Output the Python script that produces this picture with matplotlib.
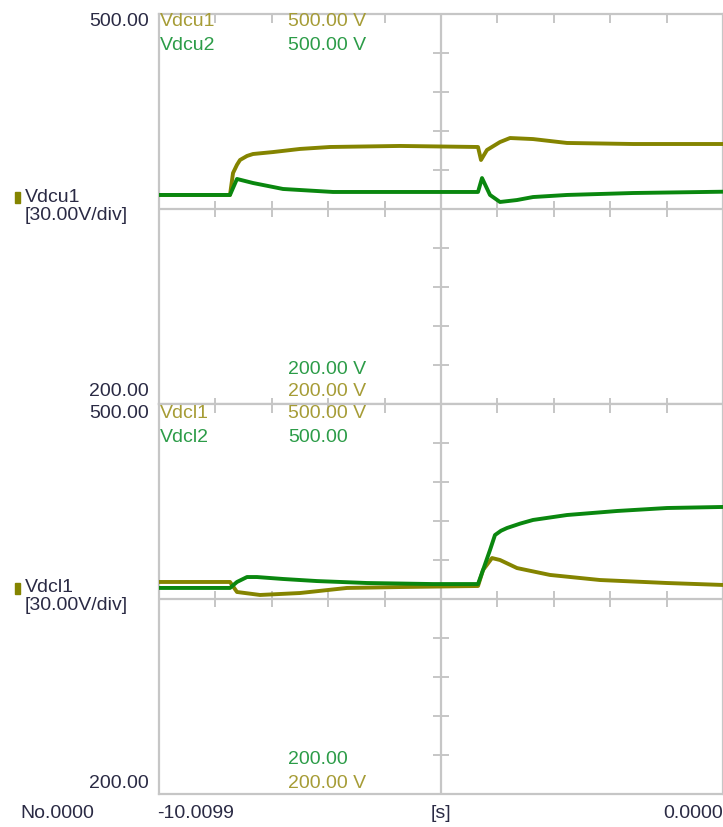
import matplotlib.pyplot as plt
from matplotlib.patches import Rectangle

plt.rcParams["font.family"] = ["Liberation Sans", "DejaVu Sans"]

# time axis (s) and voltage scale (V), 10 divisions each
T_START, T_END = -10.0099, 0.0
V_TOP, V_BOT = 500.0, 200.0
V_PER_DIV = 30.0

# upper pair of DC link voltages
vdcu1_t = [-10.0099, -8.750, -8.696, -8.626, -8.572, -8.448, -8.342, -7.987,
           -7.507, -6.975, -5.733, -4.348, -4.295, -4.189, -3.958, -3.780,
           -3.372, -2.769, -1.597, 0.0]
vdcu1_v = [360.8, 360.8, 377.7, 384.0, 387.7, 390.8, 392.3, 393.8,
           396.2, 397.7, 398.5, 397.7, 387.7, 395.4, 401.5, 404.6,
           403.8, 400.8, 400.0, 400.0]

vdcu2_t = [-10.0099, -8.750, -8.626, -8.342, -7.809, -6.922, -5.733, -4.348,
           -4.277, -4.135, -3.958, -3.656, -3.372, -2.769, -1.597, 0.0]
vdcu2_v = [360.8, 360.8, 373.1, 370.0, 365.4, 363.1, 363.1, 363.1,
           373.8, 360.8, 355.4, 356.9, 359.2, 360.8, 362.3, 363.3]

# lower pair
vdcl1_t = [-10.0099, -8.750, -8.626, -8.217, -7.507, -6.673, -5.733, -4.348,
           -4.259, -4.100, -3.958, -3.656, -3.070, -2.183, -0.993, 0.0]
vdcl1_v = [363.1, 363.1, 355.4, 353.1, 354.6, 358.5, 359.2, 360.0,
           372.3, 381.5, 380.0, 373.8, 368.5, 364.6, 362.3, 360.8]

vdcl2_t = [-10.0099, -8.750, -8.626, -8.448, -8.271, -7.809, -7.206, -6.318,
           -5.147, -4.348, -4.259, -4.135, -4.047, -3.940, -3.834, -3.600,
           -3.372, -2.769, -1.881, -0.993, 0.0]
vdcl2_v = [358.5, 358.5, 363.1, 366.9, 366.9, 365.4, 363.8, 362.3,
           361.5, 361.5, 372.3, 387.7, 399.2, 402.5, 404.6, 408.0,
           410.8, 414.6, 417.7, 420.0, 420.8]

OLIVE = "#848400"
GREEN = "#0a870f"
OLIVE_TXT = "#a69c36"
GREEN_TXT = "#2c9c48"
DARK_TXT = "#2a2a44"
GRID = "#c6c6c6"
FS = 14

W, H = 723, 827
fig = plt.figure(figsize=(W / 100, H / 100), dpi=100)


def px_box(x0, y0, x1, y1):
    return [x0 / W, 1 - y1 / H, (x1 - x0) / W, (y1 - y0) / H]


def put(x, y, s, color, ha="left"):
    fig.text(x / W, 1 - y / H, s, color=color, ha=ha, va="center", fontsize=FS)


t_div = (T_END - T_START) / 10
t_ticks = [T_START + k * t_div for k in range(1, 10)]
v_ticks = [V_TOP - k * V_PER_DIV for k in range(1, 10)]
t_mid = T_START + 5 * t_div
v_mid = V_TOP - 5 * V_PER_DIV


def scope_panel(box, traces, bottom_ticks):
    ax = fig.add_axes(box)
    ax.set_xlim(T_START, T_END)
    ax.set_ylim(V_BOT, V_TOP)
    ax.set_xticks([])
    ax.set_yticks([])
    for sp in ax.spines.values():
        sp.set_color(GRID)
        sp.set_linewidth(1.6)
    ax.axhline(v_mid, color=GRID, lw=1.6, zorder=1)
    ax.axvline(t_mid, color=GRID, lw=1.6, zorder=1)
    # division marks on the centre cross and along the top edge
    ax.plot(t_ticks, [v_mid] * 9, ls="none", marker="|", ms=12,
            mew=1.4, color=GRID, zorder=1)
    ax.plot([t_mid] * 9, v_ticks, ls="none", marker="_", ms=12,
            mew=1.4, color=GRID, zorder=1)
    ax.plot(t_ticks, [V_TOP] * 9, ls="none", marker=3, ms=6.5,
            mew=1.4, color=GRID, clip_on=False, zorder=1)
    if bottom_ticks:
        ax.plot(t_ticks, [V_BOT] * 9, ls="none", marker=2, ms=4.5,
                mew=1.4, color=GRID, clip_on=False, zorder=1)
    for t, v, c in traces:
        ax.plot(t, v, color=c, lw=2.8, solid_joinstyle="round", zorder=3)
    return ax


scope_panel(px_box(159, 14, 723, 404),
            [(vdcu1_t, vdcu1_v, OLIVE), (vdcu2_t, vdcu2_v, GREEN)], True)
scope_panel(px_box(159, 404, 723, 794),
            [(vdcl1_t, vdcl1_v, OLIVE), (vdcl2_t, vdcl2_v, GREEN)], False)

# upper panel labels
put(149, 22, "500.00", DARK_TXT, ha="right")
put(160, 22, "Vdcu1", OLIVE_TXT)
put(160, 46, "Vdcu2", GREEN_TXT)
put(288, 22, "500.00 V", OLIVE_TXT)
put(288, 46, "500.00 V", GREEN_TXT)
put(25, 197, "Vdcu1", DARK_TXT)
put(25, 215, "[30.00V/div]", DARK_TXT)
put(288, 370, "200.00 V", GREEN_TXT)
put(288, 392, "200.00 V", OLIVE_TXT)
put(149, 392, "200.00", DARK_TXT, ha="right")

# lower panel labels
put(149, 413, "500.00", DARK_TXT, ha="right")
put(160, 413, "Vdcl1", OLIVE_TXT)
put(160, 437, "Vdcl2", GREEN_TXT)
put(288, 413, "500.00 V", OLIVE_TXT)
put(288, 437, "500.00", GREEN_TXT)
put(25, 588, "Vdcl1", DARK_TXT)
put(25, 606, "[30.00V/div]", DARK_TXT)
put(288, 760, "200.00", GREEN_TXT)
put(288, 783, "200.00 V", OLIVE_TXT)
put(149, 783, "200.00", DARK_TXT, ha="right")

# channel colour swatches
for y in (192, 583):
    fig.patches.append(Rectangle((15 / W, 1 - (y + 11) / H), 5 / W, 11 / H,
                                 transform=fig.transFigure, color=OLIVE))

# time axis footer
put(20, 813, "No.0000", DARK_TXT)
put(157, 813, "-10.0099", DARK_TXT)
put(441, 813, "[s]", DARK_TXT, ha="center")
put(723, 813, "0.0000", DARK_TXT, ha="right")

fig.savefig("out.png", dpi=100)
